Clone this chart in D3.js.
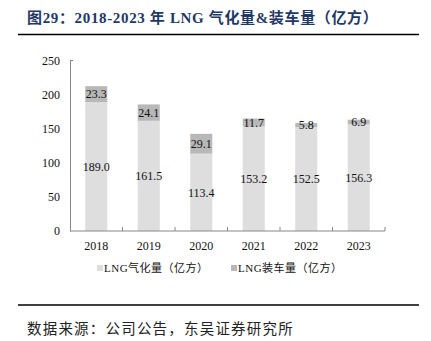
<!DOCTYPE html>
<html><head><meta charset="utf-8">
<script src="https://cdn.jsdelivr.net/npm/d3@7"></script>
<style>body{margin:0;background:#fff;} svg{display:block;}</style>
</head><body>
<script>
const years = ["2018","2019","2020","2021","2022","2023"];
const gasification = [189.0,161.5,113.4,153.2,152.5,156.3];
const loading = [23.3,24.1,29.1,11.7,5.8,6.9];
const yTicks = [0,50,100,150,200,250];
const seriesNames = ["LNG气化量（亿方）","LNG装车量（亿方）"];
const colors = ["#dedede","#b8b8b8"];

const W=431,H=341;
const svg=d3.select("body").append("svg").attr("width",W).attr("height",H);
const serif="'Liberation Serif','Times New Roman',serif";
const cjk="'Noto Sans CJK SC',sans-serif";

// title
svg.append("text").attr("x",27).attr("y",23).attr("fill","#1f3864")
  .attr("font-family",serif+",'Noto Sans CJK SC'").attr("font-weight","bold").attr("font-size",15)
  .attr("letter-spacing",0.65)
  .text("图29：2018-2023 年 LNG 气化量&装车量（亿方）");
svg.append("line").attr("x1",18).attr("x2",419).attr("y1",34.5).attr("y2",34.5).attr("stroke","#000").attr("stroke-width",1.5);
svg.append("line").attr("x1",18).attr("x2",419).attr("y1",305).attr("y2",305).attr("stroke","#000").attr("stroke-width",1.5);
svg.append("text").attr("x",27).attr("y",334).attr("font-family",cjk).attr("font-size",14.5).attr("fill","#222")
  .attr("letter-spacing",1.2)
  .text("数据来源：公司公告，东吴证券研究所");

const x=d3.scaleBand().domain(years).range([70,385]).paddingInner(0.58).paddingOuter(0.29);
const y=d3.scaleLinear().domain([0,250]).range([231,60.5]);

const stack=d3.stack().keys([0,1]).value((d,k)=>d[k]);
const rows=years.map((yr,i)=>{const r=[gasification[i],loading[i]];r.year=yr;return r;});
const layers=stack(rows);

layers.forEach((layer,li)=>{
  svg.append("g").selectAll("rect").data(layer).join("rect")
    .attr("x",d=>x(d.data.year)).attr("width",x.bandwidth())
    .attr("y",d=>y(d[1])).attr("height",d=>y(d[0])-y(d[1]))
    .attr("fill",colors[li]);
});
layers.forEach((layer,li)=>{
  svg.append("g").selectAll("text").data(layer).join("text")
    .attr("x",d=>x(d.data.year)+x.bandwidth()/2)
    .attr("y",d=>y((d[0]+d[1])/2)).attr("dy","0.35em")
    .attr("text-anchor","middle").attr("font-family",serif).attr("font-size",12).attr("fill","#111")
    .text(d=>(d[1]-d[0]).toFixed(1));
});

// axes
const yAxis=svg.append("g").attr("transform","translate(70,0)")
  .call(d3.axisLeft(y).tickValues(yTicks).tickSize(0).tickPadding(10));
yAxis.select(".domain").attr("stroke","#888");
yAxis.selectAll("text").attr("font-family",serif).attr("font-size",12).attr("fill","#111");
svg.append("line").attr("x1",70).attr("x2",73).attr("y1",y(250)).attr("y2",y(250)).attr("stroke","#888");

const xAxis=svg.append("g").attr("transform","translate(0,231)")
  .call(d3.axisBottom(x).tickSize(0).tickPadding(10));
xAxis.select(".domain").attr("stroke","#888").attr("d","M70,0H385");
xAxis.selectAll("text").attr("font-family",serif).attr("font-size",12).attr("fill","#111");
const step=x.step();
svg.append("g").selectAll("line").data(d3.range(1,years.length+1)).join("line")
  .attr("x1",i=>70+i*step).attr("x2",i=>70+i*step).attr("y1",231).attr("y2",227)
  .attr("stroke","#888");

// legend
const leg=[{x:97,t:seriesNames[0],c:colors[0]},{x:231,t:seriesNames[1],c:colors[1]}];
leg.forEach(l=>{
  svg.append("rect").attr("x",l.x).attr("y",265).attr("width",6).attr("height",6).attr("fill",l.c);
  svg.append("text").attr("x",l.x+7).attr("y",272).attr("font-family",serif+",'Noto Sans CJK SC'")
    .attr("font-size",11).attr("letter-spacing",0.5).attr("fill","#111").text(l.t);
});
</script>
</body></html>
